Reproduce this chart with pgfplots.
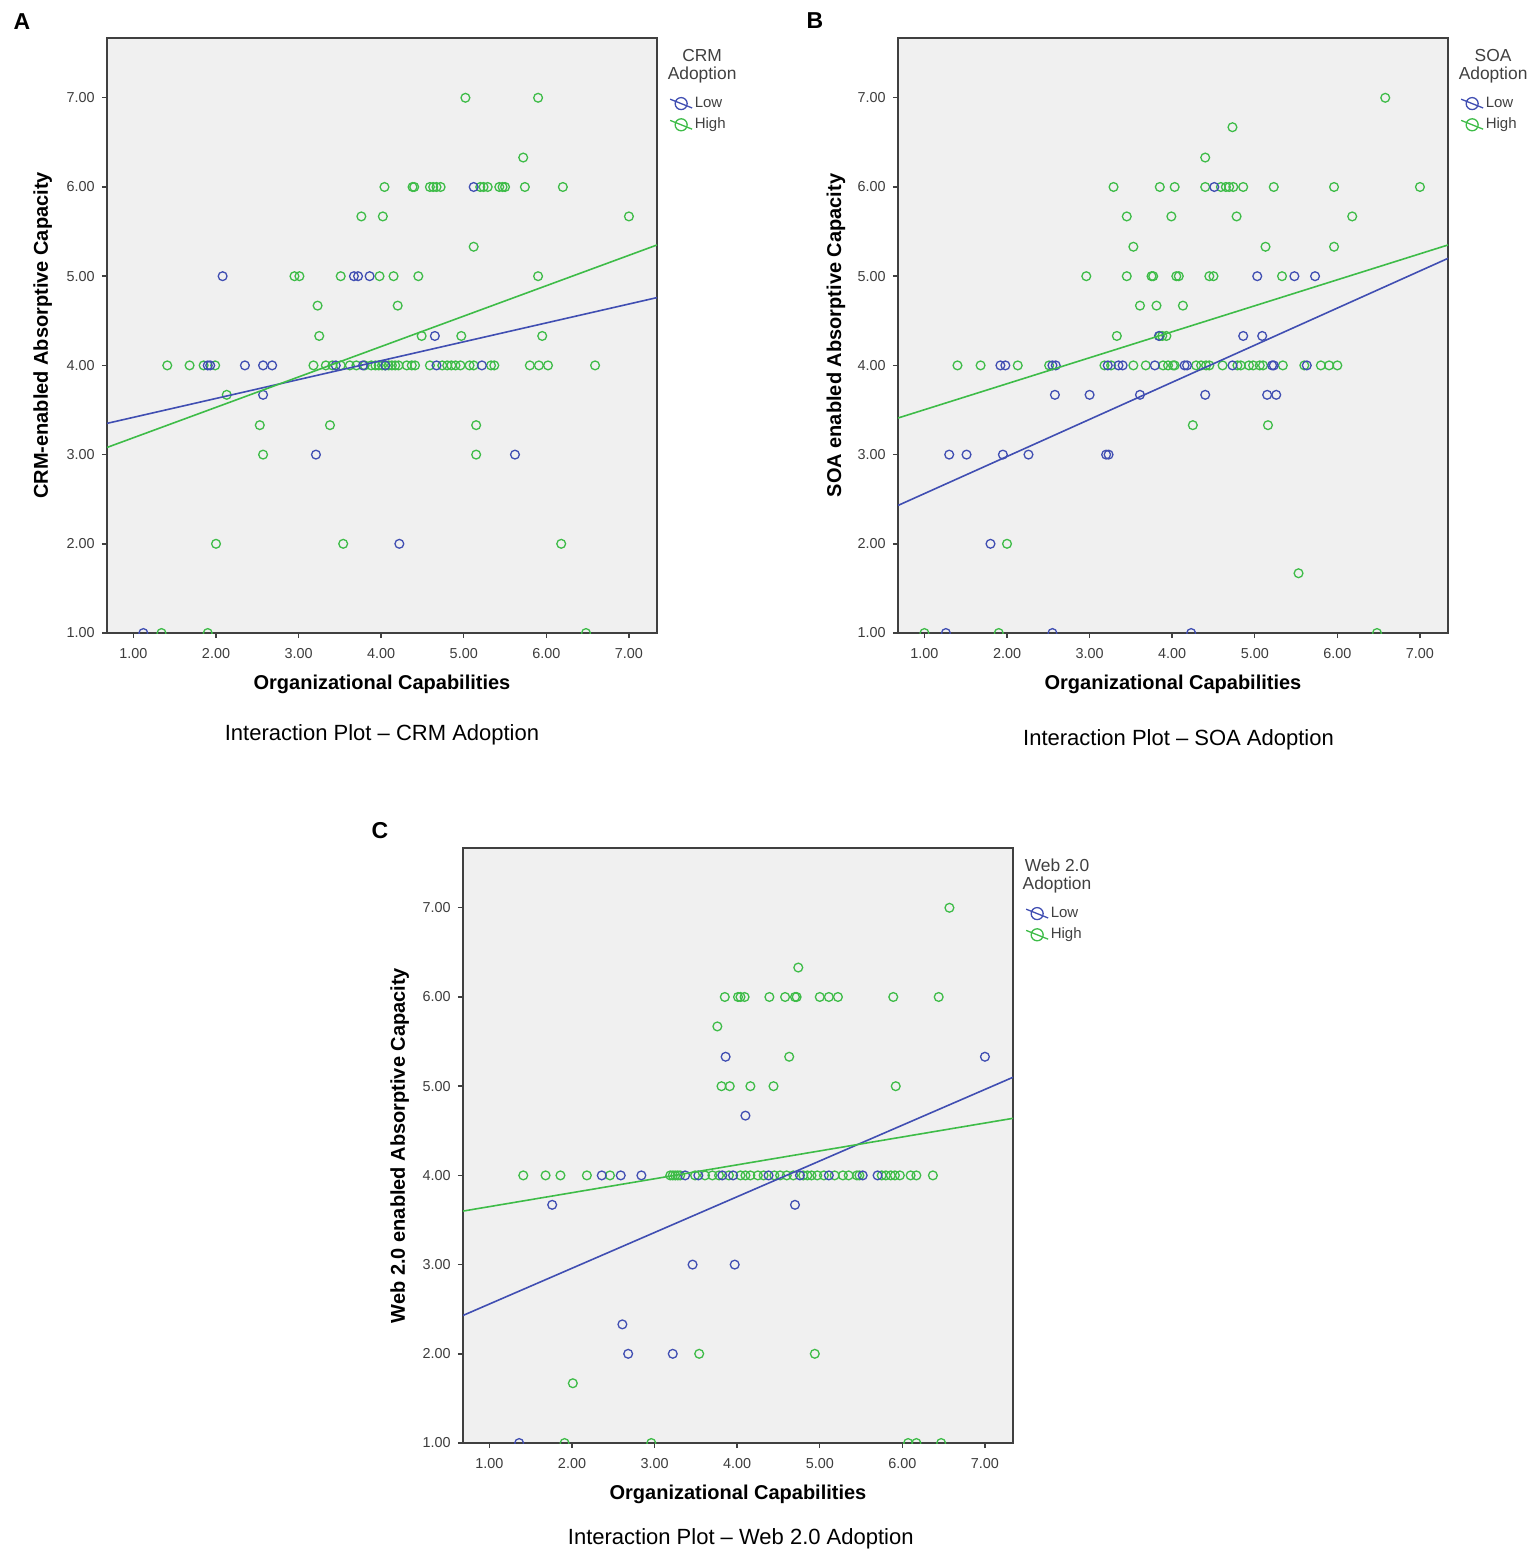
\documentclass[border=0pt]{standalone}
\usepackage{fontspec}
\setmainfont{Liberation Sans}
\usepackage{pgfplots}
\pgfplotsset{compat=1.18}
\definecolor{lowc}{RGB}{64,78,178}
\definecolor{highc}{RGB}{62,188,72}
\definecolor{bgc}{RGB}{240,240,240}
\definecolor{axc}{RGB}{64,64,64}
\definecolor{tkc}{RGB}{60,60,60}
\pgfplotsset{
  spssax/.style={
    scale only axis, width=275pt, height=297.5pt,
    xmin=0.68, xmax=7.34, ymin=1, ymax=7.67,
    xtick={1,2,3,4,5,6,7}, ytick={1,2,3,4,5,6,7},
    xticklabels={1.00,2.00,3.00,4.00,5.00,6.00,7.00},
    yticklabels={1.00,2.00,3.00,4.00,5.00,6.00,7.00},
    xtick pos=left, ytick pos=left,
    tick align=outside,
    major tick length=2.6pt,
    axis line style={axc, line width=0.8pt},
    tick style={axc, line width=0.7pt},
    axis background/.style={fill=bgc},
    tick label style={font=\fontsize{7.2}{8}\selectfont, text=tkc},
    xticklabel style={yshift=-1.5pt},
    clip mode=individual, clip marker paths=true,
    xlabel={Organizational Capabilities},
    xlabel style={at={(axis description cs:0.5,-0.086)}, anchor=center, font=\bfseries\fontsize{10}{12}\selectfont},
    ylabel style={anchor=center, font=\bfseries\fontsize{10}{12}\selectfont},
    legend image code/.code={\draw[mark repeat=2,mark phase=2,#1] plot coordinates {(0pt,2.2pt) (5.5pt,0pt) (11pt,-2.2pt)};},
    legend style={draw=none, fill=none, at={(axis description cs:1.022,0.905)}, anchor=north west,
      font=\fontsize{7.5}{8}\selectfont, text=axc, row sep=1.8pt, inner sep=0pt,
      nodes={inner sep=1pt}},
    legend cell align=left,
  },
  lowpts/.style={only marks, mark=o, mark size=2.2pt, lowc, line width=0.65pt, forget plot},
  highpts/.style={only marks, mark=o, mark size=2.2pt, highc, line width=0.65pt, forget plot},
  lowfit/.style={lowc, line width=0.8pt, no marks, forget plot},
  highfit/.style={highc, line width=0.8pt, no marks, forget plot},
  lowleg/.style={lowc, line width=0.65pt, mark=o, mark size=3pt},
  highleg/.style={highc, line width=0.65pt, mark=o, mark size=3pt},
}
\begin{document}
\begin{tikzpicture}
\path[use as bounding box] (0,0) rectangle (767.5pt,-777.5pt);
% ---------------- Panel A ----------------
\begin{axis}[spssax, at={(53.5pt,-316.5pt)}, anchor=south west,
  ylabel={CRM-enabled Absorptive Capacity},
  ylabel style={at={(axis description cs:-0.117,0.5)}}]
\addplot[highpts] coordinates {
(1.34,1) (1.90,1) (6.48,1)
(2.0,2) (3.54,2) (6.18,2)
(2.57,3) (5.15,3)
(2.53,3.33) (3.38,3.33) (5.15,3.33)
(2.13,3.67)
(1.41,4) (1.68,4) (1.85,4) (1.99,4) (3.18,4) (3.33,4) (3.41,4) (3.51,4) (3.62,4) (3.70,4) (3.80,4) (3.88,4) (3.93,4) (3.97,4) (4.01,4) (4.05,4) (4.09,4) (4.13,4) (4.17,4) (4.21,4) (4.31,4) (4.37,4) (4.41,4) (4.59,4) (4.74,4) (4.80,4) (4.85,4) (4.90,4) (4.96,4) (5.07,4) (5.12,4) (5.33,4) (5.37,4) (5.80,4) (5.91,4) (6.02,4) (6.59,4)
(3.25,4.33) (4.49,4.33) (4.97,4.33) (5.95,4.33)
(3.23,4.67) (4.20,4.67)
(2.95,5) (3.01,5) (3.51,5) (3.98,5) (4.15,5) (4.45,5) (5.90,5)
(5.12,5.33)
(3.76,5.67) (4.02,5.67) (7.0,5.67)
(4.04,6) (4.38,6) (4.40,6) (4.59,6) (4.63,6) (4.67,6) (4.72,6) (5.20,6) (5.24,6) (5.29,6) (5.43,6) (5.47,6) (5.50,6) (5.74,6) (6.20,6)
(5.72,6.33)
(5.02,7) (5.90,7)
};
\addplot[lowpts] coordinates {
(1.12,1) (4.22,2) (3.21,3) (5.62,3) (2.57,3.67)
(1.90,4) (1.93,4) (2.35,4) (2.57,4) (2.68,4) (3.45,4) (3.78,4) (4.05,4) (4.67,4) (5.22,4)
(4.65,4.33)
(2.08,5) (3.67,5) (3.72,5) (3.86,5)
(5.12,6)
};
\addplot[lowfit] coordinates {(0.68,3.35) (7.34,4.76)};
\addplot[highfit] coordinates {(0.68,3.08) (7.34,5.35)};
\addlegendimage{lowleg}
\addlegendentry{Low}
\addlegendimage{highleg}
\addlegendentry{High}
\node[align=center, font=\fontsize{8.7}{9}\selectfont, text=axc] at (axis description cs:1.082,0.953) {CRM\\Adoption};
\node[font=\fontsize{11}{13}\selectfont] at (axis description cs:0.5,-0.171) {Interaction Plot – CRM Adoption};
\end{axis}
% ---------------- Panel B ----------------
\begin{axis}[spssax, at={(449pt,-316.5pt)}, anchor=south west,
  ylabel={SOA enabled Absorptive Capacity},
  ylabel style={at={(axis description cs:-0.113,0.5)}}]
\addplot[highpts] coordinates {
(1.0,1) (1.90,1) (6.48,1)
(5.53,1.67)
(2.0,2)
(4.25,3.33) (5.16,3.33)
(1.40,4) (1.68,4) (2.13,4) (2.51,4) (3.18,4) (3.26,4) (3.53,4) (3.68,4) (3.89,4) (3.95,4) (4.01,4) (4.03,4) (4.29,4) (4.35,4) (4.41,4) (4.45,4) (4.61,4) (4.79,4) (4.83,4) (4.93,4) (4.98,4) (5.06,4) (5.10,4) (5.34,4) (5.60,4) (5.80,4) (5.90,4) (6.00,4)
(3.33,4.33) (3.85,4.33) (3.88,4.33) (3.93,4.33)
(3.61,4.67) (3.81,4.67) (4.13,4.67)
(2.96,5) (3.45,5) (3.75,5) (3.77,5) (4.05,5) (4.08,5) (4.45,5) (4.50,5) (5.33,5)
(3.53,5.33) (5.13,5.33) (5.96,5.33)
(3.45,5.67) (3.99,5.67) (4.78,5.67) (6.18,5.67)
(3.29,6) (3.85,6) (4.03,6) (4.40,6) (4.59,6) (4.65,6) (4.69,6) (4.74,6) (4.86,6) (5.23,6) (5.96,6) (7.0,6)
(4.40,6.33)
(4.73,6.67)
(6.58,7)
};
\addplot[lowpts] coordinates {
(1.26,1) (2.55,1) (4.23,1)
(1.80,2)
(1.30,3) (1.51,3) (1.95,3) (2.26,3) (3.20,3) (3.23,3)
(2.58,3.67) (3.00,3.67) (3.61,3.67) (4.40,3.67) (5.15,3.67) (5.26,3.67)
(1.92,4) (1.98,4) (2.55,4) (2.59,4) (3.22,4) (3.35,4) (3.40,4) (3.79,4) (4.15,4) (4.18,4) (4.73,4) (5.21,4) (5.23,4) (5.63,4)
(3.84,4.33) (4.86,4.33) (5.09,4.33)
(5.03,5) (5.48,5) (5.73,5)
(4.51,6)
};
\addplot[lowfit] coordinates {(0.68,2.43) (7.34,5.20)};
\addplot[highfit] coordinates {(0.68,3.41) (7.34,5.35)};
\addlegendimage{lowleg}
\addlegendentry{Low}
\addlegendimage{highleg}
\addlegendentry{High}
\node[align=center, font=\fontsize{8.7}{9}\selectfont, text=axc] at (axis description cs:1.082,0.953) {SOA\\Adoption};
\node[font=\fontsize{11}{13}\selectfont] at (axis description cs:0.51,-0.18) {Interaction Plot – SOA Adoption};
\end{axis}
% ---------------- Panel C ----------------
\begin{axis}[spssax, at={(231.5pt,-721.5pt)}, anchor=south west,
  ylabel={Web 2.0 enabled Absorptive Capacity},
  ylabel style={at={(axis description cs:-0.115,0.5)}}]
\addplot[highpts] coordinates {
(1.91,1) (2.96,1) (6.07,1) (6.17,1) (6.47,1)
(2.01,1.67)
(3.54,2) (4.94,2)
(1.41,4) (1.68,4) (1.86,4) (2.18,4) (2.46,4) (3.19,4) (3.22,4) (3.25,4) (3.28,4) (3.31,4) (3.49,4) (3.61,4) (3.70,4) (3.78,4) (3.90,4) (4.04,4) (4.10,4) (4.16,4) (4.25,4) (4.32,4) (4.45,4) (4.52,4) (4.60,4) (4.68,4) (4.80,4) (4.85,4) (4.90,4) (4.97,4) (5.05,4) (5.18,4) (5.28,4) (5.35,4) (5.45,4) (5.48,4) (5.75,4) (5.80,4) (5.86,4) (5.91,4) (5.97,4) (6.10,4) (6.17,4) (6.37,4)
(3.81,5) (3.91,5) (4.16,5) (4.44,5) (5.92,5)
(4.63,5.33)
(3.76,5.67)
(3.85,6) (4.01,6) (4.04,6) (4.09,6) (4.39,6) (4.58,6) (4.70,6) (4.72,6) (5.00,6) (5.11,6) (5.22,6) (5.89,6) (6.44,6)
(4.74,6.33)
(6.57,7)
};
\addplot[lowpts] coordinates {
(1.36,1)
(2.68,2) (3.22,2)
(2.61,2.33)
(3.46,3) (3.97,3)
(1.76,3.67) (4.70,3.67)
(2.36,4) (2.59,4) (2.84,4) (3.37,4) (3.53,4) (3.82,4) (3.95,4) (4.38,4) (4.76,4) (5.11,4) (5.52,4) (5.70,4)
(4.10,4.67)
(3.86,5.33) (7.0,5.33)
};
\addplot[lowfit] coordinates {(0.68,2.43) (7.34,5.10)};
\addplot[highfit] coordinates {(0.68,3.60) (7.34,4.64)};
\addlegendimage{lowleg}
\addlegendentry{Low}
\addlegendimage{highleg}
\addlegendentry{High}
\node[align=center, font=\fontsize{8.7}{9}\selectfont, text=axc] at (axis description cs:1.08,0.953) {Web 2.0\\Adoption};
\node[font=\fontsize{11}{13}\selectfont] at (axis description cs:0.505,-0.161) {Interaction Plot – Web 2.0 Adoption};
\end{axis}
% panel letters
\node[font=\bfseries\fontsize{11.5}{13}\selectfont] at (11pt,-11pt) {A};
\node[font=\bfseries\fontsize{11.5}{13}\selectfont] at (407.5pt,-10.5pt) {B};
\node[font=\bfseries\fontsize{11.5}{13}\selectfont] at (190pt,-415.5pt) {C};
\end{tikzpicture}
\end{document}
